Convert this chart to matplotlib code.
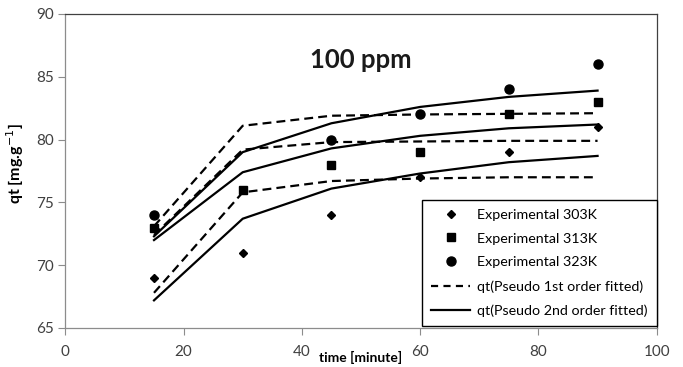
import matplotlib
matplotlib.use("Agg")
import matplotlib.pyplot as plt
from matplotlib.lines import Line2D

plt.rcParams['font.family'] = ['Lato', 'DejaVu Sans']

# Contact time (minutes)
time_min = [15, 30, 45, 60, 75, 90]

# Experimental uptake qt (mg/g); no reading shown for 323K at 30 min
exp_303 = [69, 71, 74, 77, 79, 81]
exp_313 = [73, 76, 78, 79, 82, 83]
exp_323 = [74, None, 80, 82, 84, 86]

# Pseudo first-order model
pfo_303 = [67.8, 75.8, 76.7, 76.9, 77.0, 77.0]
pfo_313 = [72.4, 79.2, 79.8, 79.85, 79.9, 79.9]
pfo_323 = [73.1, 81.1, 81.9, 82.0, 82.05, 82.1]

# Pseudo second-order model
pso_303 = [67.2, 73.7, 76.1, 77.3, 78.2, 78.7]
pso_313 = [72.0, 77.4, 79.3, 80.3, 80.9, 81.2]
pso_323 = [72.3, 79.0, 81.3, 82.6, 83.4, 83.9]

legend_labels = ['Experimental 303K', 'Experimental 313K', 'Experimental 323K',
                 'qt(Pseudo 1st order fitted)', 'qt(Pseudo 2nd order fitted)']

x_ticks = [0, 20, 40, 60, 80, 100]
y_ticks = [65, 70, 75, 80, 85, 90]

fig = plt.figure(figsize=(6.83, 3.67), dpi=100)
ax = fig.add_axes([0.0956, 0.1063, 0.8659, 0.8556])

dash = (0, (4.0, 2.3))
lw = 1.6
for series in (pfo_303, pfo_313, pfo_323):
    ax.plot(time_min, series, color='black', lw=lw, linestyle=dash)
for series in (pso_303, pso_313, pso_323):
    ax.plot(time_min, series, color='black', lw=lw, linestyle='-')

exp_323_vals = [float('nan') if v is None else v for v in exp_323]
h1, = ax.plot(time_min, exp_303, linestyle='none', marker='D', ms=3.6, color='black')
h2, = ax.plot(time_min, exp_313, linestyle='none', marker='s', ms=6.3, color='black')
h3, = ax.plot(time_min, exp_323_vals, linestyle='none', marker='o', ms=6.5, color='black')

h4 = Line2D([], [], color='black', lw=lw, linestyle=(0, (3.2, 2.4)))
h5 = Line2D([], [], color='black', lw=lw, linestyle='-')

leg = ax.legend([h1, h2, h3, h4, h5], legend_labels,
                loc='lower right', bbox_to_anchor=(1.0, 0.006), borderaxespad=0,
                fontsize=10.3, handlelength=2.75, handletextpad=0.5,
                labelspacing=0.83, borderpad=0.62,
                frameon=True, fancybox=False, framealpha=1)
leg.get_frame().set_edgecolor('black')
leg.get_frame().set_linewidth(1.0)

ax.set_xlim(0, 100)
ax.set_ylim(65, 90)
ax.set_xticks(x_ticks)
ax.set_yticks(y_ticks)
ax.tick_params(axis='both', direction='out', length=5, width=0.8,
               color='#8c8c8c', labelcolor='#404040', labelsize=11, pad=3)
ax.tick_params(axis='x', pad=7)

for side in ('left', 'bottom'):
    ax.spines[side].set_color('#8c8c8c')
    ax.spines[side].set_linewidth(0.9)
for side in ('top', 'right'):
    ax.spines[side].set_color('#404040')
    ax.spines[side].set_linewidth(0.9)

ax.text(0.5, 0.855, '100 ppm', transform=ax.transAxes, ha='center', va='center',
        fontsize=18.5, fontweight='bold', color='#1a1a1a')

ax.set_xlabel('time [minute]', fontsize=10, fontweight='bold')
ax.xaxis.set_label_coords(0.5, -0.074)
ax.set_ylabel('qt [mg.g$^{-1}$]', fontsize=11.5, fontweight='bold')
ax.yaxis.set_label_coords(-0.066, 0.522)

fig.savefig('out.png', dpi=100)
